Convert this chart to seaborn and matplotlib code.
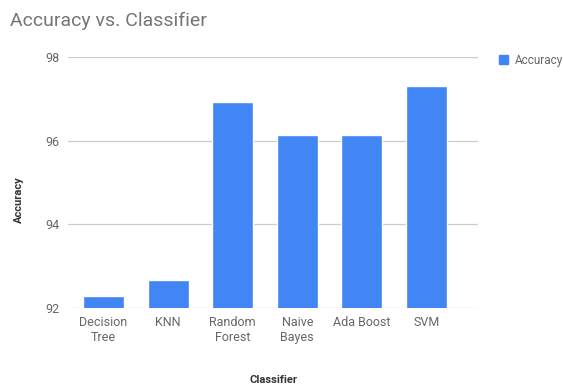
import matplotlib
matplotlib.use("Agg")
import matplotlib.pyplot as plt
import seaborn as sns
import pandas as pd
from matplotlib.patches import Patch

classifiers = ["Decision\nTree", "KNN", "Random\nForest", "Naive\nBayes", "Ada Boost", "SVM"]
accuracy = [92.29, 92.67, 96.93, 96.14, 96.14, 97.31]
yticks = [92, 94, 96, 98]

sns.set_theme(style="white")
plt.rcParams['font.family'] = ['Roboto', 'DejaVu Sans']

df = pd.DataFrame({"Classifier": classifiers, "Accuracy": accuracy})

fig = plt.figure(figsize=(5.63, 3.84), dpi=100)
ax = fig.add_axes([0.121, 0.198, 0.728, 0.654])
blue = "#4285F4"
sns.barplot(data=df, x="Classifier", y="Accuracy", color=blue, width=0.64,
            saturation=1, ax=ax, zorder=3)
ax.set_ylim(92, 98)
ax.set_xlim(-0.55, 5.8)
ax.set_yticks(yticks)
ax.set_yticklabels([str(t) for t in yticks])
for t in yticks:
    ax.axhline(t, color="#cccccc", lw=0.9, zorder=1)
for s in ax.spines.values():
    s.set_visible(False)
ax.tick_params(axis="both", length=0, colors="#666666", labelsize=9)
ax.tick_params(axis="y", pad=6)
ax.tick_params(axis="x", pad=6)
ax.set_xlabel("Classifier", fontsize=8, fontweight="bold", color="#333333", labelpad=22)
ax.set_ylabel("Accuracy", fontsize=8, fontweight="bold", color="#333333")
ax.yaxis.set_label_coords(-0.108, 0.43)

fig.text(0.018, 0.945, "Accuracy vs. Classifier", fontsize=14, color="#757575",
         ha="left", va="center")
fig.legend(handles=[Patch(color=blue, label="Accuracy")], loc="upper left",
           bbox_to_anchor=(0.875, 0.875), frameon=False, fontsize=8.5,
           handlelength=0.8, handleheight=0.8, handletextpad=0.6,
           labelcolor="#666666", borderpad=0)

fig.savefig("out.png", dpi=100)
